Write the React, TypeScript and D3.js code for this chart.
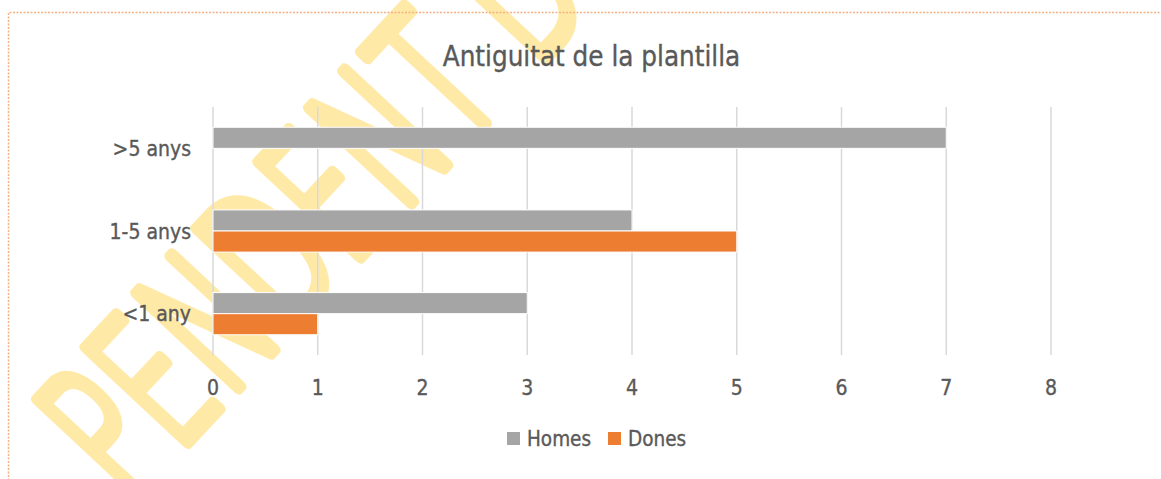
import React from 'react';
import * as d3 from 'd3';

const categories = ['>5 anys', '1-5 anys', '<1 any'];
const seriesNames = ['Homes', 'Dones'];
const homesValues = [7, 4, 3];
const donesValues = [0, 5, 1];
const xTicks = [0, 1, 2, 3, 4, 5, 6, 7, 8];
const title = 'Antiguitat de la plantilla';
const watermark = 'PENDENT DE';

const W = 1161;
const H = 479;
const FONT = "'DejaVu Sans Condensed', 'DejaVu Sans', sans-serif";
const TEXT = '#595959';
const COLORS = ['#A5A5A5', '#ED7D31'];
const WM = '#FFE9A6';

export default function App() {
  const x = d3.scaleLinear().domain([0, 8]).range([213, 1051]);
  const y = d3.scaleBand<string>().domain(categories).range([107, 355]).paddingInner(0.49).paddingOuter(0.245);
  const ySub = d3.scaleBand<string>().domain(seriesNames).range([0, y.bandwidth()]);
  const values = [homesValues, donesValues];
  const textStyle = { fontFamily: FONT, fill: TEXT, stroke: TEXT, strokeWidth: 0.35 } as const;

  return (
    <div style={{ position: 'fixed', left: 0, top: 0 }}>
      <svg width={W} height={H} style={{ display: 'block', background: '#fff' }}>
        {/* watermark */}
        <g transform="translate(128,506) rotate(-47) scale(0.62,1)">
          <text
            x={0}
            y={0}
            fontFamily="'DejaVu Sans', sans-serif"
            fontWeight={200}
            fontSize={190}
            letterSpacing={0}
            fill={WM}
            stroke={WM}
            strokeWidth={11}
            strokeLinejoin="round"
            strokeLinecap="round"
            vectorEffect="non-scaling-stroke"
          >
            {watermark}
          </text>
        </g>
        {/* border */}
        <path d={`M8.5,${H + 5} V12.5 H${W + 5}`} fill="none" stroke="#F4B183" strokeWidth={1.5} strokeDasharray="2 1.5" />
        {/* title */}
        <text x={591.5} y={66} textAnchor="middle" fontSize={27.5} {...textStyle}>
          {title}
        </text>
        {/* gridlines */}
        {xTicks.map((t) => (
          <line key={t} x1={x(t)} x2={x(t)} y1={107} y2={355} stroke="#D9D9D9" strokeWidth={1.5} />
        ))}
        {/* bars */}
        {categories.map((c, ci) => (
          <g key={c} transform={`translate(0,${y(c)})`}>
            {seriesNames.map((s, si) => {
              const v = values[si][ci];
              if (!v) return null;
              return (
                <rect
                  key={s}
                  x={x(0)}
                  y={ySub(s)}
                  width={x(v) - x(0)}
                  height={ySub.bandwidth()}
                  fill={COLORS[si]}
                  stroke="#fff"
                  strokeWidth={1}
                />
              );
            })}
          </g>
        ))}
        {/* category labels */}
        {categories.map((c) => (
          <text key={c} x={191} y={(y(c) as number) + y.bandwidth() / 2} dy="0.36em" textAnchor="end" fontSize={21} {...textStyle}>
            {c}
          </text>
        ))}
        {/* tick labels */}
        {xTicks.map((t) => (
          <text key={t} x={x(t)} y={387} dy="0.36em" textAnchor="middle" fontSize={21} {...textStyle}>
            {t}
          </text>
        ))}
        {/* legend */}
        {seriesNames.map((s, i) => {
          const lx = [507, 608][i];
          return (
            <g key={s}>
              <rect x={lx} y={432} width={13} height={13} fill={COLORS[i]} />
              <text x={lx + 20} y={438.5} dy="0.36em" fontSize={20.5} {...textStyle}>
                {s}
              </text>
            </g>
          );
        })}
      </svg>
    </div>
  );
}
